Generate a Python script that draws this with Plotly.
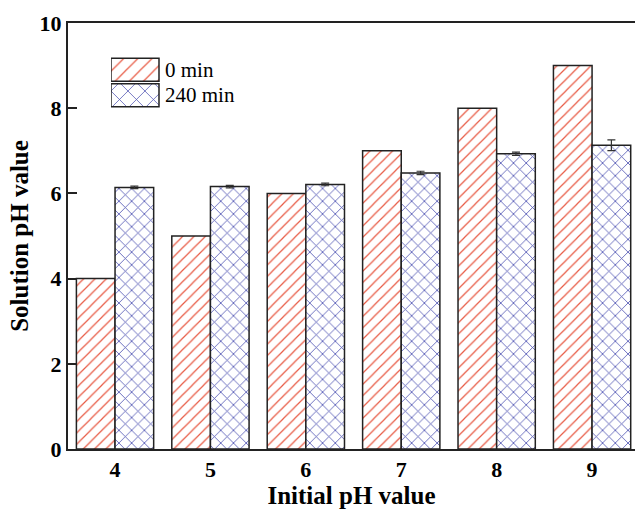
import plotly.graph_objects as go

# Initial pH of each solution and the measured pH at 0 and 240 minutes
initial_ph = [4, 5, 6, 7, 8, 9]
ph_0min = [4.0, 5.0, 6.0, 7.0, 8.0, 9.0]
ph_240min = [6.14, 6.16, 6.21, 6.48, 6.93, 7.13]
err_240min = [0.03, 0.03, 0.03, 0.04, 0.04, 0.125]

series_names = ["0 min", "240 min"]
y_ticks = [0, 2, 4, 6, 8, 10]

RED = "#e85a44"
BLUE = "#4a4eb0"
EDGE = "#222222"
FONT = "Liberation Serif"

fig = go.Figure()

fig.add_trace(go.Bar(
    x=initial_ph, y=ph_0min, name=series_names[0],
    marker=dict(color="white", line=dict(color=EDGE, width=1.5),
                pattern=dict(shape="/", fgcolor=RED, bgcolor="white",
                             size=8, solidity=0.15, fgopacity=1)),
    showlegend=False,
))
fig.add_trace(go.Bar(
    x=initial_ph, y=ph_240min, name=series_names[1],
    marker=dict(color="white", line=dict(color=EDGE, width=1.5),
                pattern=dict(shape="x", fgcolor=BLUE, bgcolor="white",
                             size=9, solidity=0.17, fgopacity=1)),
    error_y=dict(type="data", array=err_240min, color="#333333",
                 thickness=1.2, width=4),
    showlegend=False,
))

# Legend swatches: one patterned horizontal bar per series on an overlay axis
fig.add_trace(go.Bar(
    y=[1, 0], x=[1, 1], orientation="h", xaxis="x2", yaxis="y2",
    width=0.9,
    marker=dict(color="white", line=dict(color=EDGE, width=1.5),
                pattern=dict(shape=["/", "x"], fgcolor=[RED, BLUE],
                             bgcolor="white", size=[10, 12], solidity=0.12,
                             fgopacity=1)),
    showlegend=False, hoverinfo="skip",
))

for yy, label in zip([1, 0], series_names):
    fig.add_annotation(x=1.08, y=yy, xref="x2", yref="y2", text=label,
                       showarrow=False, xanchor="left", yanchor="middle",
                       font=dict(family=FONT, size=21, color="black"))

fig.update_layout(
    width=635, height=514,
    margin=dict(l=68, r=0, t=23, b=65),
    paper_bgcolor="white", plot_bgcolor="white",
    barmode="group", bargap=0.19, bargroupgap=0,
    font=dict(family=FONT, color="black"),
    xaxis=dict(
        range=[3.507, 9.45], tickmode="array", tickvals=initial_ph,
        ticktext=[str(v) for v in initial_ph],
        showgrid=False, zeroline=False, ticks="",
        showline=True, linecolor=EDGE, linewidth=2, mirror=True,
        tickfont=dict(family=FONT, size=22, color="black", weight="bold"),
        title=dict(text="<b>Initial pH value</b>", standoff=1,
                   font=dict(family=FONT, size=25, color="black")),
    ),
    yaxis=dict(
        range=[0, 10], tickmode="array", tickvals=y_ticks,
        showgrid=False, zeroline=False,
        ticks="inside", ticklen=9, tickwidth=1.5, tickcolor=EDGE,
        showline=True, linecolor=EDGE, linewidth=2,
        tickfont=dict(family=FONT, size=22, color="black", weight="bold"),
        title=dict(text="<b>Solution pH value</b>", standoff=4,
                   font=dict(family=FONT, size=25, color="black")),
    ),
    xaxis2=dict(domain=[0.0758, 0.0758 + 3 * 0.0847], range=[0, 3],
                anchor="y2", visible=False, fixedrange=True),
    yaxis2=dict(domain=[0.8005, 0.920], range=[-0.5, 1.5], anchor="x2",
                visible=False, fixedrange=True),
)

fig.write_html("out.html")
